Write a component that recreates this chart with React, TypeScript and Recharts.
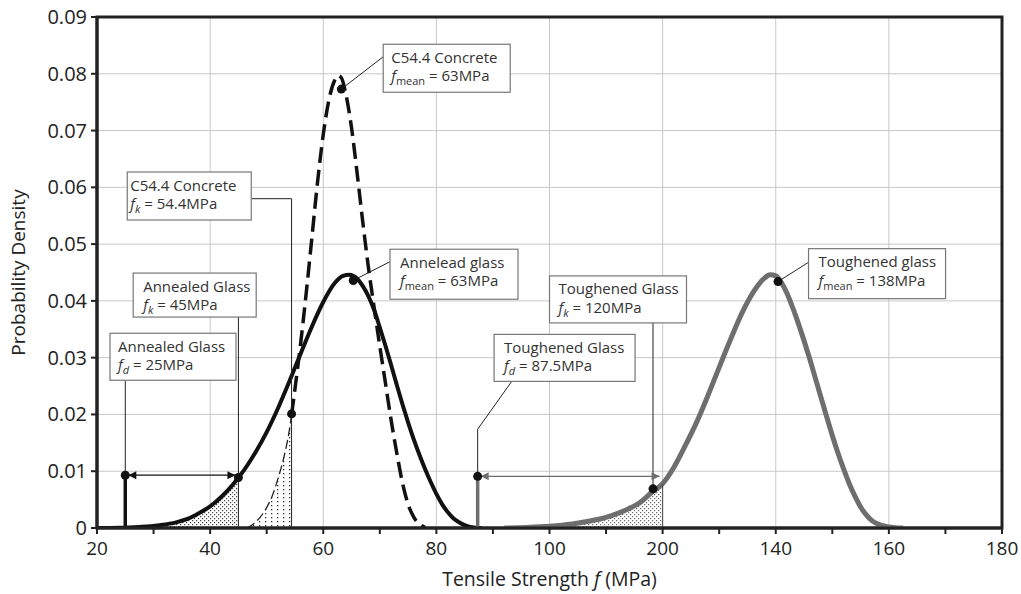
import {
  ComposedChart,
  Line,
  Area,
  XAxis,
  YAxis,
  CartesianGrid,
  ReferenceLine,
  ReferenceDot,
  ReferenceArea,
  Label,
} from "recharts";

// [tensile strength (MPa), probability density]
const annealedCurve: [number, number][] = [
  [20, 0], [24, 0.00005], [28, 0.0002], [31, 0.0005], [34, 0.001], [36, 0.0016],
  [38, 0.0026], [40, 0.0038], [42, 0.0055], [44, 0.0076], [45, 0.0089], [46, 0.0102],
  [48, 0.0133], [50, 0.0169], [52, 0.0211], [54, 0.0258], [56, 0.0307], [58, 0.0355],
  [60, 0.0398], [62, 0.0431], [63.5, 0.0444], [64.6, 0.0446], [66, 0.0439], [67, 0.0426],
  [68, 0.0408], [69, 0.0384], [70, 0.0353], [71, 0.0321], [72, 0.0287], [73, 0.0252],
  [74, 0.0218], [75, 0.0186], [76, 0.0156], [77, 0.0129], [78, 0.0104], [79, 0.0081],
  [80, 0.006], [81, 0.0042], [82, 0.0028], [83, 0.0017], [84, 0.001], [85, 0.0005],
  [86, 0.0002], [88, 0],
];

const concreteCurve: [number, number][] = [
  [54.4, 0.02], [55, 0.0245], [56, 0.0325], [57, 0.0415], [58, 0.0512], [59, 0.061],
  [60, 0.0693], [61, 0.0754], [62, 0.0788], [62.6, 0.0797], [63.2, 0.0793], [64, 0.0764],
  [65, 0.0705], [66, 0.0624], [67, 0.0538], [68, 0.0458], [69, 0.0388], [70, 0.032],
  [71, 0.0255], [72, 0.019], [73, 0.0132], [74, 0.008], [75, 0.0042], [76, 0.0019],
  [77, 0.0007], [78, 0.0001],
];

const concreteTail: [number, number][] = [
  [46.5, 0], [48, 0.001], [50, 0.0036], [51, 0.0057], [52, 0.0087], [53, 0.0123],
  [54, 0.0172], [54.4, 0.02],
];

const toughenedCurve: [number, number][] = [
  [92, 0], [96, 0.0001], [100, 0.0003], [104, 0.0007], [108, 0.0014], [111, 0.0022],
  [114, 0.0034], [116, 0.0045], [118, 0.0062], [120, 0.0078], [122, 0.0107], [124, 0.0145],
  [126, 0.0186], [128, 0.0233], [130, 0.0283], [132, 0.0332], [134, 0.0378], [136, 0.0415],
  [138, 0.044], [139, 0.0446], [140, 0.0444], [141, 0.0432], [142, 0.0413], [143, 0.0388],
  [144, 0.036], [145, 0.033], [146, 0.0298], [147, 0.0264], [148, 0.023], [149, 0.0196],
  [150, 0.0163], [151, 0.0132], [152, 0.0104], [153, 0.0078], [154, 0.0056], [155, 0.0037],
  [156, 0.0023], [157, 0.0013], [158, 0.0007], [160, 0.0002], [162.5, 0],
];

const xTicks = [20, 30, 40, 50, 60, 70, 80, 90, 100, 110, 120, 130, 140, 150, 160, 170, 180];
const xLabelValues = [20, 40, 60, 80, 100, 120, 140, 160, 180];
const xLabels = ["20", "40", "60", "80", "100", "200", "140", "160", "180"];
const yTicks = [0, 0.01, 0.02, 0.03, 0.04, 0.05, 0.06, 0.07, 0.08, 0.09];
const yLabels = ["0", "0.01", "0.02", "0.03", "0.04", "0.05", "0.06", "0.07", "0.08", "0.09"];

// marked points on the curves
const markers = [
  { x: 63.2, y: 0.0773 },
  { x: 65.3, y: 0.0436 },
  { x: 54.4, y: 0.0201 },
  { x: 45, y: 0.0089 },
  { x: 25, y: 0.0093 },
  { x: 87.3, y: 0.0091 },
  { x: 118.3, y: 0.0069 },
  { x: 140.4, y: 0.0434 },
];

const noteTexts = [
  { title: "C54.4 Concrete", sub: "mean", value: " = 63MPa" },
  { title: "C54.4 Concrete", sub: "k", value: " = 54.4MPa" },
  { title: "Annealed Glass", sub: "k", value: " = 45MPa" },
  { title: "Annealed Glass", sub: "d", value: " = 25MPa" },
  { title: "Annelead glass", sub: "mean", value: " = 63MPa" },
  { title: "Toughened Glass", sub: "k", value: " = 120MPa" },
  { title: "Toughened Glass", sub: "d", value: " = 87.5MPa" },
  { title: "Toughened glass", sub: "mean", value: " = 138MPa" },
];

// box top-left corner in data units, size in px
const noteLayout = [
  { x: 70.6, y: 0.0852, w: 127, h: 48, pad: 8 },
  { x: 25.35, y: 0.0627, w: 124, h: 48, pad: 3 },
  { x: 26.4, y: 0.0449, w: 123, h: 44, pad: 10 },
  { x: 22.3, y: 0.0343, w: 126, h: 47, pad: 8 },
  { x: 71.8, y: 0.0491, w: 128, h: 50, pad: 10 },
  { x: 100.0, y: 0.0444, w: 137, h: 47, pad: 9 },
  { x: 90.2, y: 0.0341, w: 141, h: 47, pad: 10 },
  { x: 145.8, y: 0.0492, w: 137, h: 50, pad: 10 },
];

type Seg = { from: [number, number]; to: [number, number]; color: string; width: number };
const leaders: Seg[] = [
  { from: [70.6, 0.083], to: [63.2, 0.0773], color: "#222", width: 1 },
  { from: [71.8, 0.0469], to: [65.3, 0.0436], color: "#222", width: 1 },
  { from: [145.8, 0.0468], to: [140.4, 0.0434], color: "#222", width: 1 },
  { from: [47.3, 0.058], to: [54.4, 0.058], color: "#222", width: 1 },
  { from: [54.4, 0.058], to: [54.4, 0], color: "#222", width: 1 },
  { from: [45, 0.0372], to: [45, 0], color: "#222", width: 1 },
  { from: [25, 0.0259], to: [25, 0.0093], color: "#222", width: 1 },
  { from: [25, 0.0093], to: [25, 0], color: "#111", width: 3.5 },
  { from: [93.3, 0.0258], to: [87.3, 0.0174], color: "#222", width: 1 },
  { from: [87.3, 0.0174], to: [87.3, 0.0091], color: "#222", width: 1 },
  { from: [87.3, 0.0091], to: [87.3, 0], color: "#6e6e6e", width: 3.5 },
  { from: [118.3, 0.0361], to: [118.3, 0.0069], color: "#222", width: 1 },
  { from: [120, 0.0078], to: [120, 0], color: "#444", width: 1 },
];

const arrows = [
  { from: 25, to: 45, y: 0.0093, color: "#111" },
  { from: 87.3, to: 120, y: 0.0091, color: "#6e6e6e" },
];

const toPts = (c: [number, number][]) => c.map(([x, y]) => ({ x, y }));
const annealedPts = toPts(annealedCurve);
const concretePts = toPts(concreteCurve);
const concreteTailPts = toPts(concreteTail);
const toughenedPts = toPts(toughenedCurve);
const annealedFill = annealedPts.filter((p) => p.x <= 45);
const toughenedFill = toughenedPts.filter((p) => p.x <= 120);

const W = 1021;
const H = 594;
const FONT = "'Open Sans', sans-serif";

const arrowShape = (color: string) => (p: any) => {
  const { x1, y1, x2, y2 } = p;
  const a = 8;
  const h = 4;
  const l = x1 + 3;
  const r = x2 - 3;
  return (
    <g>
      <line x1={l} y1={y1} x2={r} y2={y2} stroke={color} strokeWidth={1.2} />
      <polygon points={`${l},${y1} ${l + a},${y1 - h} ${l + a},${y1 + h}`} fill={color} />
      <polygon points={`${r},${y2} ${r - a},${y2 - h} ${r - a},${y2 + h}`} fill={color} />
    </g>
  );
};

const noteShape = (i: number) => (p: any) => {
  const { cx, cy } = p;
  const t = noteTexts[i];
  const l = noteLayout[i];
  const italicSub = t.sub.length === 1;
  return (
    <g fontFamily={FONT} fill="#333">
      <rect x={cx} y={cy} width={l.w} height={l.h} fill="#fff" stroke="#777" strokeWidth={1.2} />
      <text x={cx + l.pad} y={cy + 18.5} fontSize={15}>
        {t.title}
      </text>
      <text x={cx + l.pad} y={cy + 37} fontSize={15}>
        <tspan fontStyle="italic">f</tspan>
        <tspan fontSize={11} dy={4} fontStyle={italicSub ? "italic" : "normal"}>
          {t.sub}
        </tspan>
        <tspan dy={-4}>{t.value}</tspan>
      </text>
    </g>
  );
};

const XTick = (p: any) => {
  const i = xLabelValues.indexOf(p.payload.value);
  if (i < 0) return <g />;
  return (
    <text x={p.x} y={p.y} dy={17} textAnchor="middle" fontSize={19} fill="#222" fontFamily={FONT}>
      {xLabels[i]}
    </text>
  );
};

const YTick = (p: any) => {
  const i = yTicks.indexOf(p.payload.value);
  return (
    <text x={p.x} y={p.y} dy={7} textAnchor="end" fontSize={20} fill="#222" fontFamily={FONT}>
      {yLabels[i]}
    </text>
  );
};

const XTitle = (p: any) => {
  const vb = p.viewBox;
  return (
    <text x={vb.x + vb.width / 2} y={vb.y + 58} textAnchor="middle" fontSize={19.5} fill="#222" fontFamily={FONT}>
      Tensile Strength <tspan fontStyle="italic">f</tspan> (MPa)
    </text>
  );
};

const YTitle = (p: any) => {
  const vb = p.viewBox;
  const x = vb.x + 8;
  const y = vb.y + vb.height / 2;
  return (
    <text x={x} y={y} transform={`rotate(-90, ${x}, ${y})`} textAnchor="middle" fontSize={19} fill="#222" fontFamily={FONT}>
      Probability Density
    </text>
  );
};

export default function App() {
  return (
    <div style={{ position: "absolute", left: 0, top: 0, width: W, height: H, fontFamily: FONT }}>
      <ComposedChart width={W} height={H} margin={{ top: 17, right: 19, bottom: 8, left: 17 }}>
        <defs>
          <pattern id="dotsA" width="4" height="4" patternUnits="userSpaceOnUse">
            <rect width="4" height="4" fill="#fff" />
            <rect x="0" y="0" width="1.2" height="1.2" fill="#444" />
            <rect x="2" y="2" width="1.2" height="1.2" fill="#444" />
          </pattern>
          <pattern id="dotsC" width="6" height="4" patternUnits="userSpaceOnUse">
            <rect width="6" height="4" fill="#fff" />
            <rect x="1" y="1" width="1.3" height="1.3" fill="#333" />
          </pattern>
          <pattern id="dotsT" width="4" height="4" patternUnits="userSpaceOnUse">
            <rect width="4" height="4" fill="#fff" />
            <rect x="0" y="0" width="1.2" height="1.2" fill="#666" />
            <rect x="2" y="2" width="1.2" height="1.2" fill="#666" />
          </pattern>
        </defs>
        <CartesianGrid
          stroke="#c8c8c8"
          strokeWidth={1}
          verticalValues={[40, 60, 80, 100, 120, 140, 160]}
          horizontalValues={[0.01, 0.02, 0.03, 0.04, 0.05, 0.06, 0.07, 0.08]}
        />
        <XAxis
          type="number"
          dataKey="x"
          domain={[20, 180]}
          ticks={xTicks}
          allowDataOverflow
          height={58}
          tickSize={6}
          tickMargin={4}
          tick={XTick}
          axisLine={{ stroke: "#222", strokeWidth: 3 }}
          tickLine={{ stroke: "#222", strokeWidth: 2 }}
        >
          <Label content={XTitle} />
        </XAxis>
        <YAxis
          type="number"
          domain={[0, 0.09]}
          ticks={yTicks}
          allowDataOverflow
          width={80}
          tickSize={6}
          tickMargin={4}
          tick={YTick}
          axisLine={{ stroke: "#222", strokeWidth: 3 }}
          tickLine={{ stroke: "#222", strokeWidth: 2 }}
        >
          <Label content={YTitle} />
        </YAxis>

        <Area data={annealedFill} dataKey="y" type="monotone" stroke="none" fill="url(#dotsA)" fillOpacity={1} isAnimationActive={false} />
        <Area data={concreteTailPts} dataKey="y" type="monotone" stroke="none" fill="url(#dotsC)" fillOpacity={1} isAnimationActive={false} />
        <Area data={toughenedFill} dataKey="y" type="monotone" stroke="none" fill="url(#dotsT)" fillOpacity={1} isAnimationActive={false} />

        <Line data={concreteTailPts} dataKey="y" type="monotone" stroke="#222" strokeWidth={1.3} strokeDasharray="9 4" dot={false} activeDot={false} isAnimationActive={false} />
        <Line data={annealedPts} dataKey="y" type="monotone" stroke="#111" strokeWidth={4} dot={false} activeDot={false} isAnimationActive={false} />
        <Line data={concretePts} dataKey="y" type="monotone" stroke="#111" strokeWidth={3.5} strokeDasharray="16 7" dot={false} activeDot={false} isAnimationActive={false} />
        <Line data={toughenedPts} dataKey="y" type="monotone" stroke="#6e6e6e" strokeWidth={5} dot={false} activeDot={false} isAnimationActive={false} />

        <ReferenceArea x1={20} x2={180} y1={0} y2={0.09} fill="none" stroke="#222" strokeWidth={3} ifOverflow="visible" />

        {leaders.map((s, i) => (
          <ReferenceLine
            key={`ld${i}`}
            segment={[{ x: s.from[0], y: s.from[1] }, { x: s.to[0], y: s.to[1] }]}
            stroke={s.color}
            strokeWidth={s.width}
            ifOverflow="visible"
          />
        ))}
        {arrows.map((a, i) => (
          <ReferenceLine
            key={`ar${i}`}
            segment={[{ x: a.from, y: a.y }, { x: a.to, y: a.y }]}
            shape={arrowShape(a.color)}
            ifOverflow="visible"
          />
        ))}
        {markers.map((m, i) => (
          <ReferenceDot key={`mk${i}`} x={m.x} y={m.y} r={4.5} fill="#111" stroke="none" ifOverflow="visible" />
        ))}
        {noteLayout.map((n, i) => (
          <ReferenceDot key={`nt${i}`} x={n.x} y={n.y} r={1} shape={noteShape(i)} ifOverflow="visible" />
        ))}
      </ComposedChart>
    </div>
  );
}
